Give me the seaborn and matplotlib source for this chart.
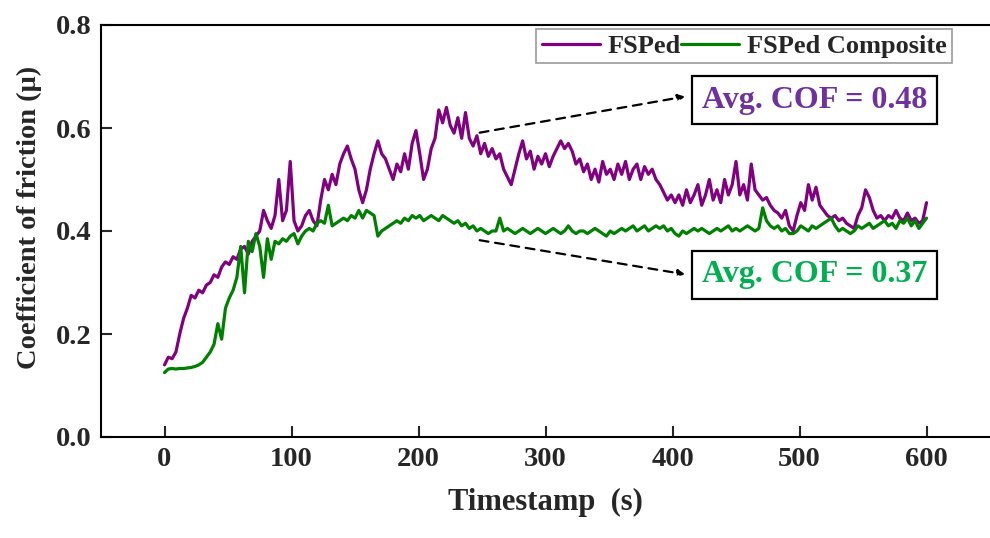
import numpy as np
import pandas as pd
import matplotlib
matplotlib.use("Agg")
import matplotlib.pyplot as plt
import seaborn as sns

# ------------------ data (3 s steps) ------------------ #
time_s = np.arange(0, 601, 3)

cof_fsped = [
    0.14, 0.155, 0.152, 0.165, 0.20, 0.23, 0.25, 0.275, 0.27, 0.285,
    0.28, 0.295, 0.30, 0.315, 0.31, 0.33, 0.34, 0.335, 0.35, 0.345,
    0.365, 0.37, 0.355, 0.38, 0.39, 0.40, 0.44, 0.42, 0.405, 0.43,
    0.50, 0.42, 0.44, 0.535, 0.42, 0.40, 0.41, 0.43, 0.44, 0.42,
    0.41, 0.46, 0.50, 0.48, 0.51, 0.49, 0.53, 0.55, 0.565, 0.54,
    0.52, 0.48, 0.455, 0.48, 0.52, 0.55, 0.575, 0.55, 0.54, 0.52,
    0.50, 0.53, 0.515, 0.55, 0.52, 0.57, 0.595, 0.55, 0.50, 0.52,
    0.56, 0.58, 0.635, 0.61, 0.64, 0.605, 0.59, 0.62, 0.58, 0.63,
    0.58, 0.565, 0.585, 0.55, 0.57, 0.545, 0.56, 0.54, 0.55, 0.52,
    0.505, 0.49, 0.52, 0.55, 0.575, 0.54, 0.555, 0.52, 0.545, 0.53,
    0.55, 0.525, 0.545, 0.56, 0.575, 0.56, 0.57, 0.555, 0.53, 0.54,
    0.515, 0.53, 0.50, 0.52, 0.495, 0.535, 0.51, 0.52, 0.50, 0.53,
    0.51, 0.535, 0.50, 0.52, 0.53, 0.50, 0.525, 0.51, 0.52, 0.50,
    0.49, 0.475, 0.46, 0.47, 0.455, 0.47, 0.45, 0.48, 0.455, 0.47,
    0.49, 0.45, 0.47, 0.50, 0.46, 0.48, 0.455, 0.50, 0.47, 0.49,
    0.535, 0.47, 0.49, 0.46, 0.53, 0.48, 0.47, 0.46, 0.465, 0.45,
    0.44, 0.435, 0.425, 0.44, 0.41, 0.40, 0.43, 0.455, 0.44, 0.49,
    0.46, 0.485, 0.45, 0.44, 0.43, 0.425, 0.43, 0.42, 0.425, 0.415,
    0.41, 0.405, 0.43, 0.445, 0.48, 0.465, 0.44, 0.425, 0.43, 0.42,
    0.43, 0.425, 0.44, 0.425, 0.42, 0.435, 0.42, 0.425, 0.415, 0.42, 0.455,
]

cof_composite = [
    0.125, 0.132, 0.133, 0.132, 0.133, 0.133, 0.134, 0.135, 0.137, 0.14,
    0.145, 0.155, 0.165, 0.18, 0.22, 0.19, 0.25, 0.27, 0.285, 0.31,
    0.37, 0.28, 0.38, 0.36, 0.395, 0.37, 0.31, 0.385, 0.345, 0.38,
    0.375, 0.385, 0.38, 0.39, 0.395, 0.375, 0.39, 0.40, 0.405, 0.40,
    0.415, 0.42, 0.415, 0.45, 0.41, 0.415, 0.42, 0.425, 0.42, 0.43,
    0.425, 0.44, 0.425, 0.44, 0.435, 0.43, 0.39, 0.40, 0.405, 0.41,
    0.415, 0.42, 0.415, 0.425, 0.42, 0.43, 0.425, 0.43, 0.42, 0.425,
    0.43, 0.425, 0.42, 0.43, 0.425, 0.42, 0.415, 0.42, 0.41, 0.415,
    0.405, 0.41, 0.40, 0.405, 0.40, 0.395, 0.40, 0.40, 0.425, 0.40,
    0.405, 0.40, 0.395, 0.40, 0.405, 0.40, 0.395, 0.40, 0.405, 0.40,
    0.395, 0.40, 0.405, 0.40, 0.395, 0.40, 0.41, 0.40, 0.395, 0.40,
    0.40, 0.395, 0.40, 0.405, 0.40, 0.395, 0.39, 0.40, 0.395, 0.40,
    0.405, 0.40, 0.405, 0.41, 0.40, 0.405, 0.41, 0.40, 0.405, 0.41,
    0.405, 0.41, 0.40, 0.405, 0.395, 0.39, 0.40, 0.395, 0.40, 0.405,
    0.40, 0.405, 0.40, 0.395, 0.40, 0.405, 0.40, 0.405, 0.41, 0.40,
    0.405, 0.40, 0.405, 0.41, 0.405, 0.40, 0.405, 0.445, 0.42, 0.41,
    0.405, 0.41, 0.40, 0.405, 0.395, 0.395, 0.40, 0.41, 0.405, 0.40,
    0.41, 0.405, 0.41, 0.415, 0.42, 0.425, 0.41, 0.40, 0.405, 0.40,
    0.395, 0.40, 0.41, 0.405, 0.41, 0.415, 0.405, 0.41, 0.415, 0.42,
    0.41, 0.415, 0.405, 0.42, 0.415, 0.425, 0.41, 0.42, 0.405, 0.415, 0.425,
]

series_names = ["FSPed", "FSPed Composite"]
series_colors = ["#800080", "#008000"]
avg_labels = ["Avg. COF = 0.48", "Avg. COF = 0.37"]
label_colors = ["#7030A0", "#00B050"]

df = pd.DataFrame({
    "time": np.concatenate([time_s, time_s]),
    "cof": cof_fsped + cof_composite,
    "sample": [series_names[0]] * len(time_s) + [series_names[1]] * len(time_s),
})

# ------------------ styling ------------------ #
sns.set_style("ticks")
plt.rcParams["font.family"] = ["Liberation Serif", "DejaVu Serif"]
plt.rcParams["font.weight"] = "bold"
plt.rcParams["axes.labelweight"] = "bold"

fig = plt.figure(figsize=(9.9, 5.38), dpi=100)
ax = fig.add_axes([101 / 990, 101 / 538, 889 / 990, 412 / 538])

sns.lineplot(data=df, x="time", y="cof", hue="sample", palette=series_colors,
             estimator=None, linewidth=2.3, ax=ax)

ax.set_xlim(-50, 650)
ax.set_ylim(0, 0.8)
ax.set_xticks([0, 100, 200, 300, 400, 500, 600])
ax.set_yticks([0.0, 0.2, 0.4, 0.6, 0.8])
ax.set_yticklabels(["0.0", "0.2", "0.4", "0.6", "0.8"])
ax.tick_params(direction="in", length=8, width=1.5, labelsize=20.5, pad=7)
for lab in ax.get_xticklabels() + ax.get_yticklabels():
    lab.set_fontweight("bold")
for side in ["left", "bottom", "top"]:
    ax.spines[side].set_linewidth(1.5)
    ax.spines[side].set_color("black")
ax.spines["right"].set_visible(False)

ax.set_xlabel("Timestamp  (s)", fontsize=22, fontweight="bold", labelpad=12)
ax.set_ylabel("Coefficient of friction (\u03bc)", fontsize=20.5, fontweight="bold")
ax.yaxis.set_label_coords(-0.066, 0.534)

leg = ax.legend(handles=ax.get_lines()[:2], labels=series_names, ncol=2,
                loc="upper right", bbox_to_anchor=(0.957, 0.99), borderaxespad=0,
                frameon=True, fancybox=False, edgecolor="#808080",
                prop={"size": 19, "weight": "bold"},
                handlelength=2.2, columnspacing=0.0, handletextpad=0.3,
                borderpad=0.2)
leg.get_frame().set_linewidth(1.2)

# dashed pointers and average boxes
arrow_starts = [(246, 0.59), (246, 0.383)]
arrow_ends = [(412, 0.662), (412, 0.315)]
box_centers = [(512, 0.654), (512, 0.315)]
for i in range(2):
    ax.annotate("", xy=arrow_ends[i], xytext=arrow_starts[i],
                arrowprops=dict(arrowstyle="-|>", linestyle=(0, (4, 3)), color="black",
                                lw=1.6, mutation_scale=10))
    ax.text(box_centers[i][0], box_centers[i][1], avg_labels[i], color=label_colors[i],
            fontsize=23, fontweight="bold", ha="center", va="center",
            bbox=dict(boxstyle="square,pad=0.3", facecolor="white", edgecolor="black", lw=1.6))

fig.savefig("out.png", dpi=100, facecolor="white")
